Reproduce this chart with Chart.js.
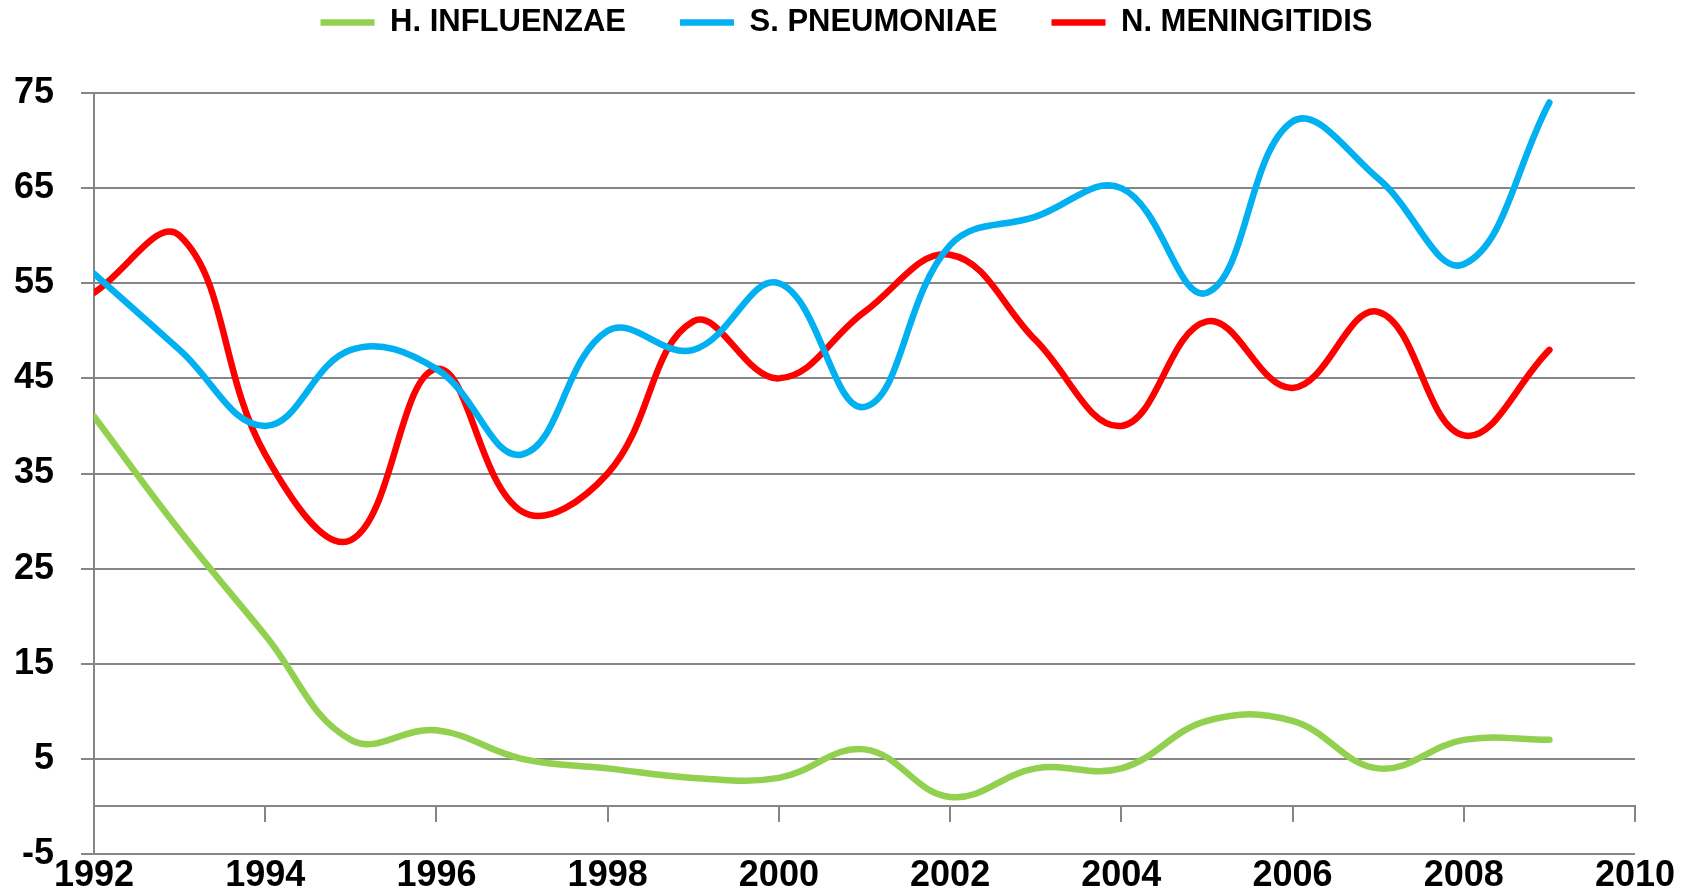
<!DOCTYPE html>
<html>
<head>
<meta charset="utf-8">
<script src="https://cdn.jsdelivr.net/npm/chart.js@4"></script>
<style>
    html, body { margin: 0; padding: 0; background: #ffffff; }
    #wrap { width: 1693px; height: 896px; position: relative; }
</style>
</head>
<body>
<div id="wrap"><canvas id="meningitisChart"></canvas></div>
<script>
// years and yearly values
const years = [1992, 1993, 1994, 1995, 1996, 1997, 1998, 1999, 2000, 2001, 2002, 2003, 2004, 2005, 2006, 2007, 2008, 2009];
const hInfluenzae = [41, 29, 18, 7, 8, 5, 4, 3, 3, 6, 1, 4, 4, 9, 9, 4, 7, 7];
const sPneumoniae = [56, 48, 40, 48, 46, 37, 50, 48, 55, 42, 59, 62, 65, 54, 72, 66, 57, 74];
const nMeningitidis = [54, 60, 37, 28, 46, 31, 35, 51, 45, 52, 58, 49, 40, 51, 44, 52, 39, 48];

const seriesNames = ["H. INFLUENZAE", "S. PNEUMONIAE", "N. MENINGITIDIS"];
const seriesColors = ["#92D050", "#00B0F0", "#FF0000"];

const xMin = 1992, xMax = 2010, xStep = 2;
const yMin = -5, yMax = 75, yStep = 10;

const gridGray = "#868686";

Chart.defaults.font.family = "'Liberation Sans', Arial, sans-serif";
Chart.defaults.color = "#000000";

function toPoints(values) {
    return years.map((year, i) => ({ x: year, y: values[i] }));
}

const datasets = [hInfluenzae, sPneumoniae, nMeningitidis].map((values, i) => ({
    label: seriesNames[i],
    data: toPoints(values),
    borderColor: seriesColors[i],
    backgroundColor: seriesColors[i],
    borderWidth: 6.5,
    borderCapStyle: "round",
    borderJoinStyle: "round",
    pointRadius: 0,
    pointHoverRadius: 0,
    pointStyle: "line",
    tension: 0.4,
    fill: false
}));

// push the plot area down below the legend
const legendGap = {
    id: "legendGap",
    beforeInit(chart) {
        const fit = chart.legend.fit;
        chart.legend.fit = function () {
            fit.call(this);
            this.height += 45;
        };
    }
};

const ctx = document.getElementById("meningitisChart").getContext("2d");

const chart = new Chart(ctx, {
    type: "line",
    data: { datasets: datasets },
    plugins: [legendGap],
    options: {
        responsive: true,
        maintainAspectRatio: false,
        animation: false,
        layout: { padding: { top: -47, left: 0, right: 0, bottom: 0 } },
        plugins: {
            legend: {
                position: "top",
                labels: {
                    usePointStyle: true,
                    pointStyleWidth: 54,
                    padding: 54,
                    font: { size: 31, weight: "bold" },
                    color: "#000000"
                }
            },
            tooltip: { enabled: false }
        },
        scales: {
            x: {
                type: "linear",
                position: "bottom",
                min: xMin,
                max: xMax,
                grid: { display: false, drawTicks: false },
                border: { display: false },
                ticks: {
                    stepSize: xStep,
                    padding: 0,
                    maxRotation: 0,
                    autoSkip: false,
                    font: { size: 36, weight: "bold" },
                    callback: value => String(value)
                },
                afterFit: scale => {
                    scale.paddingRight = 58;
                    scale.height = 42;
                }
            },
            xZero: {
                type: "linear",
                axis: "x",
                position: { y: 0 },
                min: xMin,
                max: xMax,
                grid: {
                    drawOnChartArea: false,
                    drawTicks: true,
                    tickLength: 15,
                    color: gridGray,
                    lineWidth: 2
                },
                border: { display: true, color: gridGray, width: 2 },
                ticks: { stepSize: xStep, display: false }
            },
            y: {
                type: "linear",
                position: "left",
                min: yMin,
                max: yMax,
                grid: {
                    color: gridGray,
                    lineWidth: 2,
                    tickLength: 13
                },
                border: { display: true, color: gridGray, width: 2 },
                ticks: {
                    stepSize: yStep,
                    padding: 27,
                    font: { size: 36, weight: "bold" }
                },
                afterFit: scale => {
                    scale.width = 94;
                    scale.paddingTop = 0;
                    scale.paddingBottom = 0;
                }
            }
        }
    }
});
</script>
</body>
</html>
